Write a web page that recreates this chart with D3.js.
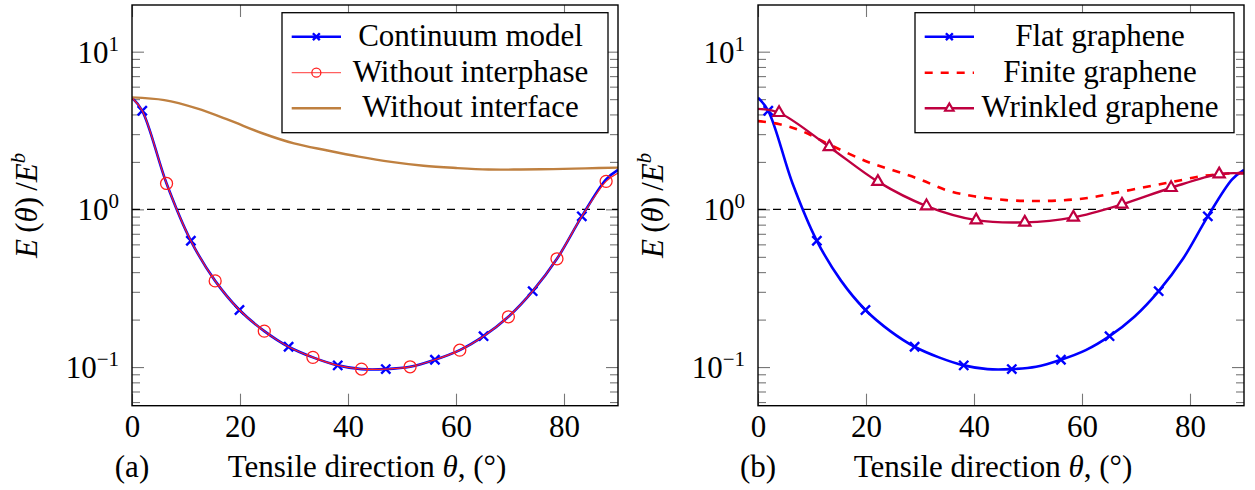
<!DOCTYPE html>
<html>
<head>
<meta charset="utf-8">
<script src="https://cdn.jsdelivr.net/npm/d3@7"></script>
<style>
body { margin: 0; background: #fff; }
svg { display: block; font-family: 'Liberation Serif', serif; }
</style>
</head>
<body>
<script>
// tick values
const thetaTicks = [0, 20, 40, 60, 80];
const yMajor = [0.1, 1, 10];

// (a) continuum model (also the flat graphene curve in (b))
const continuumTheta = [0, 1.9, 6.4, 10.9, 15.4, 19.9, 24.5, 29.0, 33.5, 38.1, 42.5, 47.0, 51.5, 56.1, 60.7, 65.1, 69.7, 74.2, 78.7, 83.3, 87.8, 90];
const continuumValue = [5.10, 4.22, 1.46, 0.632, 0.352, 0.230, 0.169, 0.1345, 0.1152, 0.1025, 0.0971, 0.0971, 0.1004, 0.1112, 0.128, 0.157, 0.2084, 0.303, 0.486, 0.903, 1.55, 1.78];
const continuumMarks = [1, 3, 5, 7, 9, 11, 13, 15, 17, 19];

// (a) without interphase
const interphaseTheta = [0, 1.9, 6.4, 10.9, 15.4, 19.9, 24.5, 29.0, 33.5, 38.1, 42.5, 47.0, 51.5, 56.1, 60.7, 65.1, 69.7, 74.2, 78.7, 83.3, 87.8, 90];
const interphaseValue = [5.10, 4.22, 1.46, 0.632, 0.352, 0.230, 0.169, 0.1345, 0.1152, 0.1025, 0.0971, 0.0971, 0.1004, 0.1112, 0.128, 0.157, 0.2084, 0.303, 0.486, 0.903, 1.505, 1.70];
const interphaseMarks = [2, 4, 6, 8, 10, 12, 14, 16, 18, 20];

// (a) without interface
const interfaceTheta = [0, 6, 12, 18, 24, 30, 36, 42, 48, 54, 60, 66, 72, 78, 84, 90];
const interfaceValue = [5.13, 4.93, 4.37, 3.68, 3.05, 2.62, 2.37, 2.16, 2.0, 1.89, 1.83, 1.79, 1.79, 1.80, 1.82, 1.84];

// (b) finite graphene
const finiteTheta = [0, 4, 8, 13, 20, 25, 30, 35, 40, 46, 51, 56, 61, 66, 72, 77, 82, 87, 90];
const finiteValue = [3.63, 3.47, 3.15, 2.6, 2.02, 1.77, 1.55, 1.32, 1.21, 1.145, 1.13, 1.14, 1.18, 1.27, 1.39, 1.50, 1.62, 1.69, 1.70];

// (b) wrinkled graphene
const wrinkledTheta = [0, 3.9, 13.2, 22.2, 31.2, 40.4, 49.4, 58.4, 67.4, 76.5, 85.4, 90];
const wrinkledValue = [4.34, 4.10, 2.49, 1.50, 1.05, 0.855, 0.827, 0.89, 1.076, 1.371, 1.674, 1.69];
const wrinkledMarks = [1, 2, 3, 4, 5, 6, 7, 8, 9, 10];

const plotW = 486, plotTop = 5, plotBottom = 405.7;
const yDomain = [Math.pow(10, -1.245), Math.pow(10, 1.296)];
const fontSize = 31;
const serif = "'Liberation Serif', 'Times New Roman', serif";

const svg = d3.select('body').append('svg').attr('width', 1255).attr('height', 490)
  .attr('font-family', serif);

function zip(t, v) { return t.map((d, i) => [d, v[i]]); }

function drawMark(g, type, cx, cy, color, s) {
  if (type === 'x') {
    const r = 4.6 * s;
    g.append('path')
      .attr('d', `M${cx - r},${cy - r}L${cx + r},${cy + r}M${cx - r},${cy + r}L${cx + r},${cy - r}`)
      .attr('stroke', color).attr('stroke-width', 2.4).attr('fill', 'none');
  } else if (type === 'o') {
    g.append('circle').attr('cx', cx).attr('cy', cy).attr('r', 6 * s)
      .attr('stroke', color).attr('stroke-width', 1.3).attr('fill', 'none');
  } else if (type === 'tri') {
    const r = 6.5 * s;
    g.append('path')
      .attr('d', `M${cx},${cy - r}L${cx + r * 0.866},${cy + r / 2}L${cx - r * 0.866},${cy + r / 2}Z`)
      .attr('stroke', color).attr('stroke-width', 2.2).attr('fill', '#fff');
  }
}

function drawPanel(id, left, series, legendBox, letter) {
  const x = d3.scaleLinear().domain([0, 90]).range([left, left + plotW]);
  const y = d3.scaleLog().domain(yDomain).range([plotBottom, plotTop]);
  const g = svg.append('g');

  g.append('clipPath').attr('id', 'clip' + id)
    .append('rect').attr('x', left).attr('y', plotTop).attr('width', plotW).attr('height', plotBottom - plotTop);

  // axes (ticks inward)
  const yMinor = y.ticks().filter(v => Math.abs(Math.log10(v) - Math.round(Math.log10(v))) > 1e-6);
  const axes = [
    [d3.axisBottom(x).tickValues(thetaTicks).tickSizeInner(-12).tickSizeOuter(0).tickPadding(9), `translate(0,${plotBottom})`],
    [d3.axisTop(x).tickValues(thetaTicks).tickSizeInner(-12).tickSizeOuter(0).tickFormat(() => ''), `translate(0,${plotTop})`],
    [d3.axisLeft(y).tickValues(yMajor).tickSizeInner(-12).tickSizeOuter(0).tickFormat(() => ''), `translate(${left},0)`],
    [d3.axisLeft(y).tickValues(yMinor).tickSizeInner(-8).tickSizeOuter(0).tickFormat(() => ''), `translate(${left},0)`],
    [d3.axisRight(y).tickValues(yMajor).tickSizeInner(-12).tickSizeOuter(0).tickFormat(() => ''), `translate(${left + plotW},0)`],
    [d3.axisRight(y).tickValues(yMinor).tickSizeInner(-8).tickSizeOuter(0).tickFormat(() => ''), `translate(${left + plotW},0)`]
  ];
  axes.forEach(a => {
    const ag = g.append('g').attr('transform', a[1]).call(a[0]);
    ag.select('.domain').remove();
    ag.selectAll('.tick line').attr('stroke', '#777').attr('stroke-width', 1.1);
    ag.selectAll('.tick text').attr('fill', '#000');
    ag.attr('font-size', fontSize).attr('font-family', serif);
  });

  // y tick labels 10^n
  yMajor.forEach(v => {
    const e = Math.round(Math.log10(v));
    const t = g.append('text').attr('x', left - 13).attr('y', y(v) + 11)
      .attr('text-anchor', 'end').attr('font-size', fontSize);
    t.append('tspan').text('10');
    t.append('tspan').attr('font-size', 21).attr('dy', -12).text(String(e).replace('-', '\u2212'));
  });

  // reference line E = E^b
  g.append('line').attr('x1', x(0)).attr('x2', x(90)).attr('y1', y(1)).attr('y2', y(1))
    .attr('stroke', '#000').attr('stroke-width', 1.3).attr('stroke-dasharray', '8,7');

  const line = d3.line().x(d => x(d[0])).y(d => y(d[1])).curve(d3.curveCatmullRom.alpha(0.5));
  const pg = g.append('g').attr('clip-path', `url(#clip${id})`);
  series.forEach(s => {
    const pts = zip(s.theta, s.value);
    pg.append('path').attr('d', line(pts)).attr('fill', 'none')
      .attr('stroke', s.color).attr('stroke-width', s.width)
      .attr('stroke-dasharray', s.dash || null);
    if (s.marks) s.marks.forEach(i => drawMark(pg, s.mark, x(pts[i][0]), y(pts[i][1]), s.color, 1));
  });

  // frame
  g.append('rect').attr('x', left).attr('y', plotTop).attr('width', plotW).attr('height', plotBottom - plotTop)
    .attr('fill', 'none').attr('stroke', '#000').attr('stroke-width', 1.4);

  // y label
  const yl = g.append('text').attr('transform', `translate(${left - 95},${(plotTop + plotBottom) / 2}) rotate(-90)`)
    .attr('text-anchor', 'middle').attr('font-size', fontSize);
  yl.append('tspan').attr('font-style', 'italic').text('E');
  yl.append('tspan').text('\u2009(');
  yl.append('tspan').attr('font-style', 'italic').text('\u03b8');
  yl.append('tspan').text(')\u2009/');
  yl.append('tspan').attr('font-style', 'italic').text('E');
  yl.append('tspan').attr('font-style', 'italic').attr('font-size', 21).attr('dy', -12).text('b');

  // x label and sub caption
  const xl = g.append('text').attr('x', left + plotW / 2 - 8).attr('y', 477)
    .attr('text-anchor', 'middle').attr('font-size', fontSize);
  xl.append('tspan').text('Tensile direction ');
  xl.append('tspan').attr('font-style', 'italic').text('\u03b8');
  xl.append('tspan').text(', (\u00b0)');
  g.append('text').attr('x', left).attr('y', 477).attr('text-anchor', 'middle')
    .attr('font-size', fontSize).text(letter);

  // legend
  const lb = legendBox;
  g.append('rect').attr('x', lb.x).attr('y', lb.y).attr('width', lb.w).attr('height', lb.h)
    .attr('fill', '#fff').attr('stroke', '#000').attr('stroke-width', 1.3);
  const rowY = [lb.y + 24, lb.y + 60, lb.y + 95.6];
  const sx0 = lb.x + 9.7, sx1 = lb.x + 59;
  series.forEach((s, i) => {
    g.append('line').attr('x1', sx0).attr('x2', sx1).attr('y1', rowY[i]).attr('y2', rowY[i])
      .attr('stroke', s.legendColor || s.color).attr('stroke-width', s.width).attr('stroke-dasharray', s.dash || null);
    if (s.mark) drawMark(g, s.mark, (sx0 + sx1) / 2, rowY[i], s.color, 0.75);
    g.append('text').attr('x', (sx1 + lb.x + lb.w) / 2 - 4).attr('y', rowY[i] + 9)
      .attr('text-anchor', 'middle').attr('font-size', fontSize).text(s.name);
  });
}

drawPanel('a', 132, [
  { name: 'Continuum model', theta: continuumTheta, value: continuumValue, color: '#0000ff', width: 2.6, mark: 'x', marks: continuumMarks },
  { name: 'Without interphase', theta: interphaseTheta, value: interphaseValue, color: '#ff2020', legendColor: '#ff6060', width: 1.2, mark: 'o', marks: interphaseMarks },
  { name: 'Without interface', theta: interfaceTheta, value: interfaceValue, color: '#bf8040', width: 2.4 }
], { x: 282, y: 12.7, w: 326, h: 120 }, '(a)');

drawPanel('b', 758, [
  { name: 'Flat graphene', theta: continuumTheta, value: continuumValue, color: '#0000ff', width: 2.6, mark: 'x', marks: continuumMarks },
  { name: 'Finite graphene', theta: finiteTheta, value: finiteValue, color: '#ff0000', width: 2.6, dash: '8,8' },
  { name: 'Wrinkled graphene', theta: wrinkledTheta, value: wrinkledValue, color: '#bf0040', width: 2.4, mark: 'tri', marks: wrinkledMarks }
], { x: 915, y: 12.7, w: 319, h: 120 }, '(b)');
</script>
</body>
</html>
